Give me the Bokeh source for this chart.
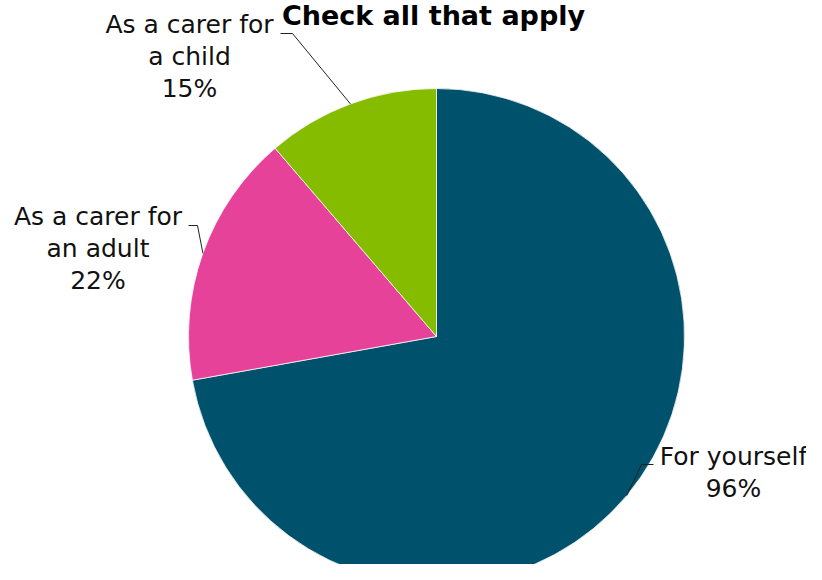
import numpy as np
from bokeh.plotting import figure
from bokeh.models import Range1d, ColumnDataSource
from bokeh.core.properties import value
from bokeh.embed import file_html
from bokeh.resources import INLINE

# ---- data ----
title = "Check all that apply"
categories = ["For yourself", "As a carer for\nan adult", "As a carer for\na child"]
values = [96, 22, 15]
colors = ["#00516B", "#E6429A", "#85BC00"]

# ---- layout (pixel coordinates of the picture) ----
CX, CY, R = 436, 336, 248
W, H = 806, 564
FONT = "DejaVu Sans"
TEXT_SHIFT = -9  # compensate baseline placement of the svg text

def X(px):
    return px - CX

def Y(py):
    return CY - py

p = figure(width=W, height=H, output_backend="svg", toolbar_location=None,
           x_range=Range1d(X(0), X(W)), y_range=Range1d(Y(H), Y(0)),
           min_border=0)
p.axis.visible = False
p.grid.visible = False
p.outline_line_color = None
p.background_fill_color = "white"
p.border_fill_color = "white"

total = float(sum(values))
cum = np.concatenate([[0.0], np.cumsum(values)]) / total
start = np.pi / 2 - cum[:-1] * 2 * np.pi
end = np.pi / 2 - cum[1:] * 2 * np.pi
mid = (start + end) / 2

src = ColumnDataSource(dict(start=start, end=end, color=colors))
p.wedge(x=0, y=0, radius=R, start_angle="start", end_angle="end",
        direction="clock", fill_color="color", line_color="white",
        line_width=0.75, source=src)

# label anchors: (center x, first baseline y, leader start x, leader elbow x, leader y)
label_pos = [
    (733, 465, 653, 641, 464),
    (97.5, 225, 188, 197, 225),
    (189, 33, 280, 292, 33),
]
LINE_H = 32

for cat, v, m, (lx, ly, sx, ex, ey) in zip(categories, values, mid, label_pos):
    lines = cat.split("\n") + [f"{v}%"]
    xs = [X(lx)] * len(lines)
    ys = [Y(ly + TEXT_SHIFT + i * LINE_H) for i in range(len(lines))]
    p.text(x=xs, y=ys, text=lines, text_align="center", text_baseline="alphabetic",
           text_font=value(FONT), text_font_size="25px", text_color="#111111")
    px_edge = R * np.cos(m)
    py_edge = R * np.sin(m)
    p.line(x=[X(sx), X(ex), px_edge], y=[Y(ey), Y(ey), py_edge],
           line_color="#222222", line_width=1)

p.text(x=[X(433)], y=[Y(24 + TEXT_SHIFT)], text=[title], text_align="center",
       text_baseline="alphabetic", text_font=value(FONT), text_font_style="bold",
       text_font_size="27px", text_color="#000000")

open("out.html", "w").write(file_html(p, INLINE))
